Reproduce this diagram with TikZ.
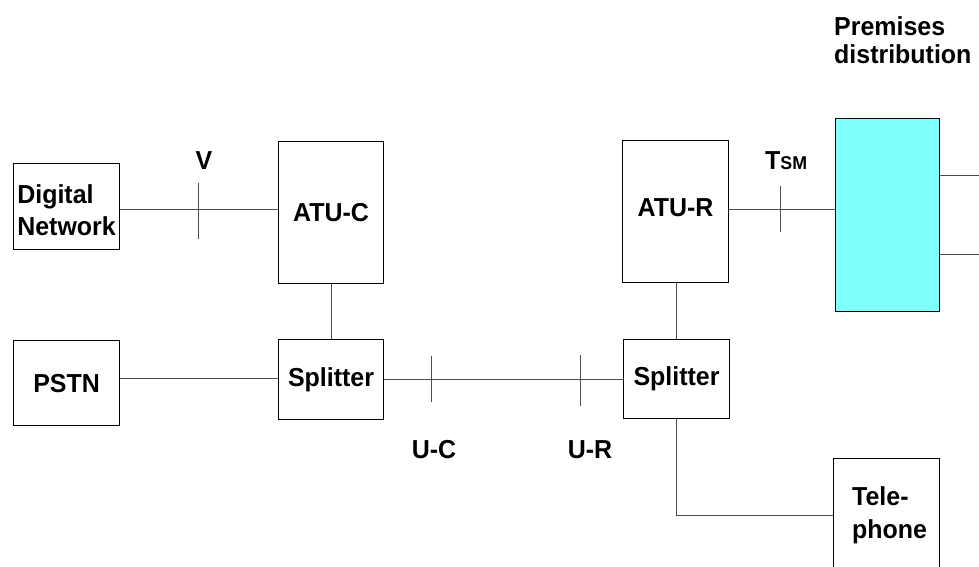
\documentclass[tikz,border=0pt]{standalone}
\usepackage{fontspec}
\setmainfont{Liberation Sans}[FakeStretch=0.96]
\definecolor{premcyan}{HTML}{80FFFF}
\begin{document}
\begin{tikzpicture}[x=1pt,y=-1pt,
  box/.style={draw=black,line width=1.1pt,inner sep=0pt,anchor=north west,
    font=\fontsize{26}{32}\selectfont\bfseries,align=left},
  wire/.style={draw=black!70,line width=1pt},
  lbl/.style={font=\fontsize{26}{32}\selectfont\bfseries,inner sep=0pt,align=left},
]
\useasboundingbox (0,0) rectangle (979,567);
\clip (0,0) rectangle (979,567);

% boxes
\node[box,minimum width=106pt,minimum height=86pt] (dn) at (13,163) {\rule{0pt}{27pt}Digital\\Network};
\node[box,minimum width=105pt,minimum height=142pt] (atuc) at (278,141) {ATU-C};
\node[box,minimum width=106pt,minimum height=85pt] (pstn) at (13,340) {PSTN};
\node[box,minimum width=105pt,minimum height=80pt] (splc) at (278,339) {Splitter};
\node[box,minimum width=106pt,minimum height=142pt] (atur) at (622,140) {\rule[-8pt]{0pt}{8pt}ATU-R};
\node[box,minimum width=104pt,minimum height=193pt,fill=premcyan] (cyan) at (835,118) {};
\node[box,minimum width=106pt,minimum height=79pt] (splr) at (623,339) {Splitter};
\node[box,minimum width=106pt,minimum height=150pt] (tel) at (833,458) {};
\node[lbl,anchor=north west,font=\fontsize{26}{33}\selectfont\bfseries] (tellbl) at (852,486) {Tele-\\phone};

% labels
\node[lbl,anchor=base] (vlbl) at (204,169) {V};
\node[lbl,anchor=base west] (tlbl) at (765,169) {T{\fontsize{18.5}{18}\selectfont SM}};
\node[lbl,anchor=base] (uclbl) at (434,458) {U-C};
\node[lbl,anchor=base] (urlbl) at (590,458) {U-R};
\node[lbl,anchor=north west,font=\fontsize{26}{28}\selectfont\bfseries] (prem) at (834,16) {Premises\\distribution};

% reference-point coordinates
\coordinate (vt) at (198,209);
\coordinate (vtT) at (198,183);
\coordinate (vtB) at (198,239);
\coordinate (tt) at (780,209);
\coordinate (ttT) at (780,186);
\coordinate (ttB) at (780,232);
\coordinate (uc) at (431,379);
\coordinate (ucT) at (431,356);
\coordinate (ucB) at (431,402);
\coordinate (ur) at (580,379);
\coordinate (urT) at (580,355);
\coordinate (urB) at (580,406);
\coordinate (pl) at (0,378);
\coordinate (telc) at (676,515);
\coordinate (po1) at (979,175);
\coordinate (po2) at (979,254);

% wires
\draw[wire] (dn.east |- vt) -- (atuc.west |- vt);
\draw[wire] (vtT) -- (vtB);
\draw[wire] (atuc.south) -- (splc.north);
\draw[wire] (pstn.east |- pl) -- (splc.west |- pl);
\draw[wire] (splc.east |- uc) -- (splr.west |- uc);
\draw[wire] (ucT) -- (ucB);
\draw[wire] (urT) -- (urB);
\draw[wire] (atur.east |- tt) -- (cyan.west |- tt);
\draw[wire] (ttT) -- (ttB);
\draw[wire] (atur.south -| telc) -- (splr.north -| telc);
\draw[wire] (splr.south -| telc) -- (telc) -- (tel.west |- telc);
\draw[wire] (cyan.east |- po1) -- (po1);
\draw[wire] (cyan.east |- po2) -- (po2);
\end{tikzpicture}
\end{document}
